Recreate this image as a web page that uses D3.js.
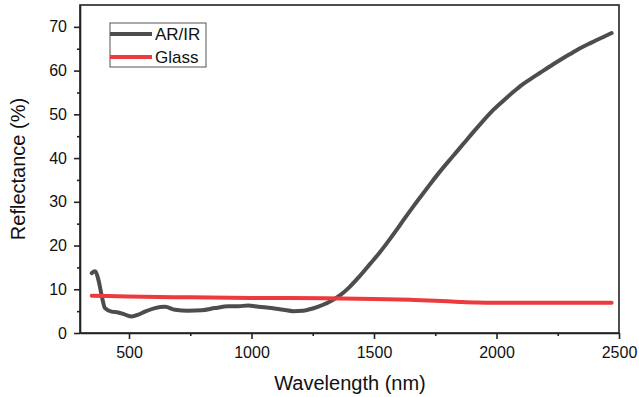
<!DOCTYPE html>
<html>
<head>
<meta charset="utf-8">
<script src="https://cdn.jsdelivr.net/npm/d3@7"></script>
<style>
  body { margin: 0; background: #fff; }
  svg { font-family: "Liberation Sans", Arial, sans-serif; }
  .axis text { font-size: 16px; fill: #111; font-family: "Liberation Sans", Arial, sans-serif; }
  .axis path, .axis line { stroke: #222; stroke-width: 1.6px; }
</style>
</head>
<body>
<div id="chart"></div>
<script>
// Wavelength (nm) and reflectance (%)
const arirWave = [348, 361, 375, 389, 402, 429, 456, 484, 511, 538, 565, 606, 647, 688, 742, 797, 851, 905, 946, 987, 1028, 1082, 1130, 1171, 1210, 1250, 1290, 1330, 1361, 1400, 1440, 1484, 1520, 1552, 1590, 1620, 1660, 1688, 1730, 1769, 1820, 1864, 1900, 1933, 1980, 2028, 2060, 2096, 2140, 2178, 2230, 2273, 2310, 2341, 2380, 2409, 2440, 2470];
const arirValues = [13.7, 14.1, 12.2, 8.4, 5.7, 4.9, 4.7, 4.2, 3.8, 4.2, 4.9, 5.7, 6.0, 5.3, 5.1, 5.2, 5.7, 6.1, 6.1, 6.3, 6.0, 5.7, 5.3, 5.0, 5.1, 5.6, 6.4, 7.5, 8.6, 10.5, 12.9, 15.8, 18.2, 20.5, 23.4, 25.8, 28.9, 31.0, 34.1, 36.9, 40.3, 43.2, 45.6, 47.7, 50.6, 53.1, 54.7, 56.4, 58.1, 59.5, 61.4, 62.9, 64.1, 65.1, 66.2, 67.0, 67.8, 68.6];

const glassWave = [348, 500, 750, 1000, 1300, 1500, 1650, 1750, 1850, 1920, 2000, 2200, 2470];
const glassValues = [8.5, 8.35, 8.15, 8.0, 7.95, 7.8, 7.6, 7.4, 7.1, 6.95, 6.9, 6.9, 6.9];

const seriesNames = ["AR/IR", "Glass"];
const seriesColors = ["#4d4d4d", "#ec3a3e"];

const xTicks = [500, 1000, 1500, 2000, 2500];
const xMinorTicks = [750, 1250, 1750, 2250];
const yTicks = [0, 10, 20, 30, 40, 50, 60, 70];
const yMinorTicks = [5, 15, 25, 35, 45, 55, 65];

const width = 639, height = 397;
const margin = { top: 5, right: 20, bottom: 64, left: 80 };

const svg = d3.select("#chart").append("svg")
  .attr("width", width)
  .attr("height", height);

const x = d3.scaleLinear()
  .domain([300, 2500])
  .range([margin.left, width - margin.right]);

const y = d3.scaleLinear()
  .domain([0, 75])
  .range([height - margin.bottom, margin.top]);

// Frame: top and right lines without ticks
svg.append("rect")
  .attr("x", margin.left)
  .attr("y", margin.top)
  .attr("width", x.range()[1] - margin.left)
  .attr("height", y.range()[0] - margin.top)
  .attr("fill", "none")
  .attr("stroke", "#222")
  .attr("stroke-width", 1.6);

// Minor ticks first so the major axes sit on top
svg.append("g")
  .attr("class", "axis")
  .attr("transform", "translate(0," + y(0) + ")")
  .call(d3.axisBottom(x).tickValues(xMinorTicks).tickSize(3).tickFormat(""))
  .call(g => g.select(".domain").remove());

svg.append("g")
  .attr("class", "axis")
  .attr("transform", "translate(" + margin.left + ",0)")
  .call(d3.axisLeft(y).tickValues(yMinorTicks).tickSize(3).tickFormat(""))
  .call(g => g.select(".domain").remove());

svg.append("g")
  .attr("class", "axis")
  .attr("transform", "translate(0," + y(0) + ")")
  .call(d3.axisBottom(x).tickValues(xTicks).tickSize(6).tickSizeOuter(0)
    .tickPadding(8).tickFormat(d3.format("d")));

svg.append("g")
  .attr("class", "axis")
  .attr("transform", "translate(" + margin.left + ",0)")
  .call(d3.axisLeft(y).tickValues(yTicks).tickSize(6).tickSizeOuter(0)
    .tickPadding(7).tickFormat(d3.format("d")));

// Axis titles
svg.append("text")
  .attr("x", 350)
  .attr("y", 390)
  .attr("text-anchor", "middle")
  .attr("font-size", 20)
  .attr("fill", "#111")
  .text("Wavelength (nm)");

svg.append("text")
  .attr("transform", "translate(25," + (y(0) + y(75)) / 2 + ") rotate(-90)")
  .attr("text-anchor", "middle")
  .attr("font-size", 20)
  .attr("fill", "#111")
  .text("Reflectance (%)");

// Curves
const line = d3.line()
  .x(d => x(d[0]))
  .y(d => y(d[1]))
  .curve(d3.curveMonotoneX);

const series = [
  d3.zip(arirWave, arirValues),
  d3.zip(glassWave, glassValues)
];

series.forEach((s, i) => {
  svg.append("path")
    .datum(s)
    .attr("d", line)
    .attr("fill", "none")
    .attr("stroke", seriesColors[i])
    .attr("stroke-width", 4)
    .attr("stroke-linejoin", "round")
    .attr("stroke-linecap", "round");
});

// Legend
const legend = svg.append("g")
  .attr("transform", "translate(110,23)");

legend.append("rect")
  .attr("width", 96)
  .attr("height", 44)
  .attr("fill", "#fff")
  .attr("stroke", "#555")
  .attr("stroke-width", 1);

seriesNames.forEach((name, i) => {
  const ly = 11 + i * 23;
  legend.append("line")
    .attr("x1", 0)
    .attr("x2", 42)
    .attr("y1", ly)
    .attr("y2", ly)
    .attr("stroke", seriesColors[i])
    .attr("stroke-width", 4);
  legend.append("text")
    .attr("x", 45)
    .attr("y", ly + 6)
    .attr("font-size", 17)
    .attr("fill", "#111")
    .text(name);
});
</script>
</body>
</html>
